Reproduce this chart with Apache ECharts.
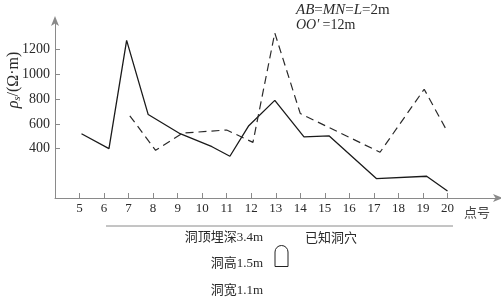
<!DOCTYPE html>
<html><head><meta charset="utf-8">
<script src="https://cdn.jsdelivr.net/npm/echarts@6/dist/echarts.min.js"></script>
<style>html,body{margin:0;padding:0;background:#fff}#c{width:501px;height:299px}</style>
</head><body><div id="c"></div>
<script>
// Point numbers (x) and apparent resistivity values (Ω·m)
var solidX = [5.08, 6.2, 6.92, 7.8, 9.1, 10.4, 11.13, 11.9, 12.96, 14.15, 15.18, 17.1, 19.15, 20];
var solidY = [520, 400, 1275, 675, 520, 415, 338, 585, 790, 494, 502, 157, 176, 57];
var dashX = [7.05, 8.1, 9.2, 11.0, 12.07, 12.96, 14.0, 17.25, 19.05, 20];
var dashY = [665, 386, 525, 550, 450, 1335, 683, 370, 880, 535];
var xTicks = [5,6,7,8,9,10,11,12,13,14,15,16,17,18,19,20];
var yTicks = [400, 600, 800, 1000, 1200];

var serif = '"Liberation Serif", "Noto Sans CJK SC", serif';
var TXT = '#2a2a2a';
var AX = '#8a8a8a';

function pairs(xs, ys){ return xs.map(function(x,i){ return [x, ys[i]]; }); }

var chart = echarts.init(document.getElementById('c'), null, {renderer:'canvas'});
chart.setOption({
  animation: false,
  grid: {left: 55, top: 20, right: 2, bottom: 101},
  xAxis: {
    type: 'value', min: 4, max: 22.1, interval: 1,
    splitLine: {show: false},
    axisLine: {lineStyle: {color: AX, width: 1}, symbol: ['none','arrow'], symbolSize: [6, 10], symbolOffset: [0, 4]},
    axisTick: {inside: true, length: 5, lineStyle: {color: AX}, customValues: xTicks},
    axisLabel: {customValues: xTicks, color: TXT, fontFamily: serif, fontSize: 13, margin: 4}
  },
  yAxis: {
    type: 'value', min: 0, max: 1440,
    splitLine: {show: false},
    axisLine: {show: true, lineStyle: {color: AX, width: 1}, symbol: ['none','arrow'], symbolSize: [6, 10], symbolOffset: [0, 4]},
    axisTick: {show: true, inside: true, length: 5, lineStyle: {color: AX}, customValues: yTicks},
    axisLabel: {customValues: yTicks, color: TXT, fontFamily: serif, fontSize: 14, margin: 5,
      formatter: function(v){ return String(v); }}
  },
  series: [
    {type: 'line', data: pairs(solidX, solidY), symbol: 'none',
     lineStyle: {color: '#1a1a1a', width: 1.3}},
    {type: 'line', data: pairs(dashX, dashY), symbol: 'none',
     lineStyle: {color: '#2a2a2a', width: 1.2, type: [8, 5]}}
  ],
  graphic: [
    {type: 'text', x: 14, y: 80, rotation: Math.PI/2,
     style: {text: '{i|ρ}{sub|s}{n|/(Ω·m)}', align: 'center', verticalAlign: 'middle',
       rich: {
         i: {fontFamily: serif, fontStyle: 'italic', fontSize: 16, fill: TXT},
         sub: {fontFamily: serif, fontStyle: 'italic', fontSize: 11, fill: TXT, verticalAlign: 'bottom', padding: [7,0,0,0]},
         n: {fontFamily: serif, fontSize: 16, fill: TXT}
       }}},
    {type: 'text', x: 296, y: 10,
     style: {text: '{i|AB}{n|=}{i|MN}{n|=}{i|L}{n|=2m}', verticalAlign: 'middle',
       rich: {i: {fontFamily: serif, fontStyle: 'italic', fontSize: 15, fill: TXT},
              n: {fontFamily: serif, fontSize: 15, fill: TXT}}}},
    {type: 'text', x: 296, y: 25,
     style: {text: '{i|OO′} {n|=12m}', verticalAlign: 'middle',
       rich: {i: {fontFamily: serif, fontStyle: 'italic', fontSize: 14, fill: TXT},
              n: {fontFamily: serif, fontSize: 14, fill: TXT}}}},
    {type: 'text', x: 464, y: 214,
     style: {text: '点号', fontFamily: serif, fontSize: 13, fill: '#444', verticalAlign: 'middle'}},
    {type: 'line', shape: {x1: 106, y1: 226, x2: 453, y2: 226}, style: {stroke: AX, lineWidth: 1}},
    {type: 'text', x: 263, y: 238,
     style: {text: '洞顶埋深3.4m', fontFamily: serif, fontSize: 13, fill: TXT, align: 'right', verticalAlign: 'middle'}},
    {type: 'text', x: 263, y: 264,
     style: {text: '洞高1.5m', fontFamily: serif, fontSize: 13, fill: TXT, align: 'right', verticalAlign: 'middle'}},
    {type: 'text', x: 263, y: 291,
     style: {text: '洞宽1.1m', fontFamily: serif, fontSize: 13, fill: TXT, align: 'right', verticalAlign: 'middle'}},
    {type: 'text', x: 305, y: 239,
     style: {text: '已知洞穴', fontFamily: serif, fontSize: 13, fill: TXT, verticalAlign: 'middle'}},
    {type: 'rect', shape: {x: 275, y: 245.5, width: 13, height: 21, r: [6.5, 6.5, 0, 0]},
     style: {stroke: '#222', lineWidth: 1, fill: 'none'}}
  ]
});
</script></body></html>
